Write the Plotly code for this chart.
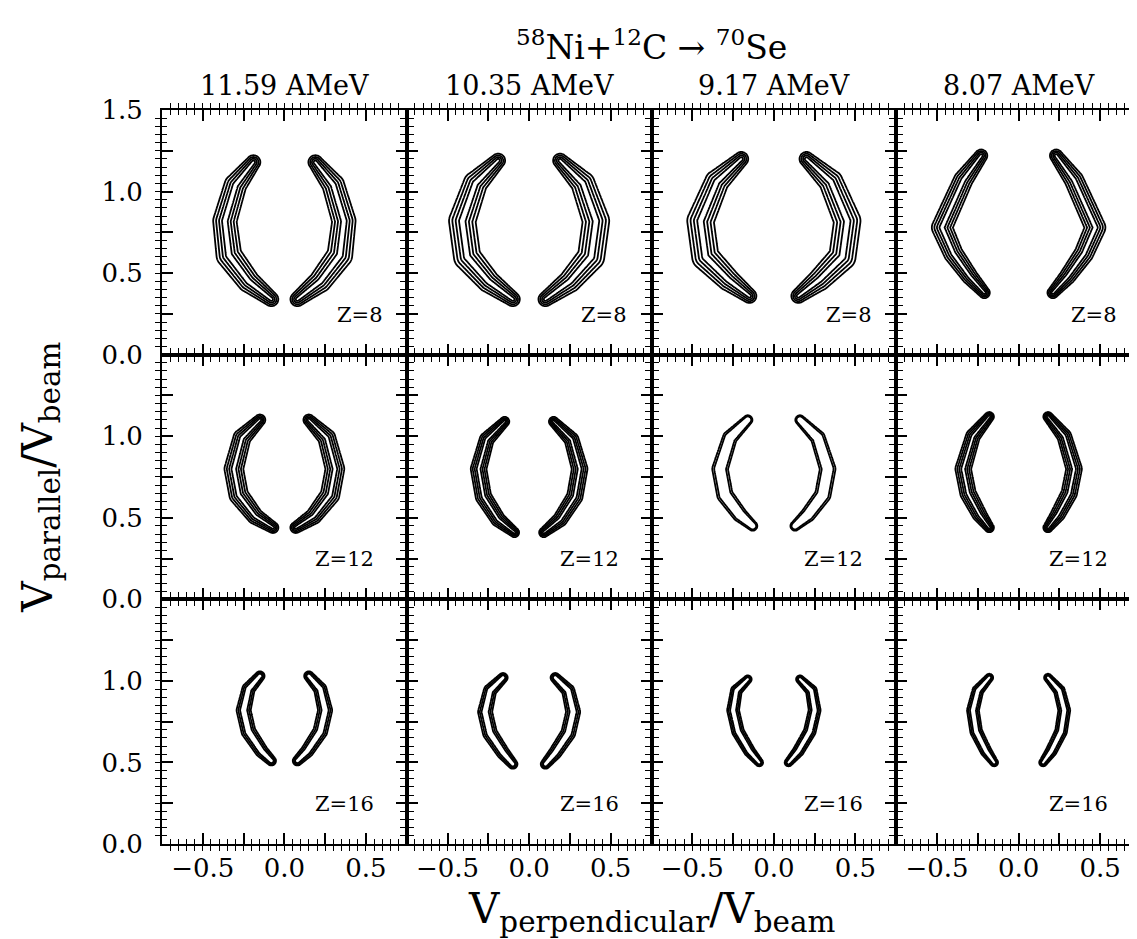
import numpy as np
import plotly.graph_objects as go
from plotly.subplots import make_subplots

# ---------------- data ----------------
energies = ["11.59 AMeV", "10.35 AMeV", "9.17 AMeV", "8.07 AMeV"]
charges = ["Z=8", "Z=12", "Z=16"]
y_ticks = [0.0, 0.5, 1.0, 1.5]
x_ticks = [-0.5, 0.0, 0.5]

# Crest line of the LEFT crescent (V_perp, V_par) in each panel, top -> bottom.
# The right crescent is its mirror image.  One list per charge row, one entry per energy.
z8_crest_x = [
    [-0.19, -0.30, -0.365, -0.34, -0.22, -0.08],
    [-0.19, -0.33, -0.41, -0.38, -0.25, -0.10],
    [-0.20, -0.35, -0.45, -0.42, -0.28, -0.15],
    [-0.23, -0.34, -0.47, -0.40, -0.30, -0.21],
]
z8_crest_y = [
    [1.18, 1.04, 0.82, 0.61, 0.45, 0.34],
    [1.19, 1.05, 0.82, 0.60, 0.45, 0.34],
    [1.20, 1.06, 0.82, 0.60, 0.46, 0.36],
    [1.22, 1.07, 0.78, 0.62, 0.48, 0.38],
]
z8_crest_w = [
    [0.045, 0.070, 0.075, 0.080, 0.070, 0.045],
    [0.045, 0.075, 0.085, 0.085, 0.070, 0.045],
    [0.045, 0.075, 0.085, 0.085, 0.070, 0.045],
    [0.040, 0.060, 0.065, 0.060, 0.050, 0.035],
]
z12_crest_x = [
    [-0.15, -0.26, -0.31, -0.28, -0.18, -0.07],
    [-0.15, -0.26, -0.31, -0.28, -0.19, -0.09],
    [-0.16, -0.27, -0.33, -0.30, -0.21, -0.13],
    [-0.18, -0.28, -0.34, -0.31, -0.24, -0.18],
]
z12_crest_y = [
    [1.10, 0.99, 0.80, 0.64, 0.51, 0.44],
    [1.09, 0.98, 0.80, 0.63, 0.49, 0.41],
    [1.10, 0.99, 0.80, 0.64, 0.52, 0.45],
    [1.12, 1.00, 0.80, 0.65, 0.52, 0.44],
]
z12_crest_w = [
    [0.035, 0.055, 0.060, 0.060, 0.050, 0.035],
    [0.030, 0.045, 0.050, 0.050, 0.045, 0.030],
    [0.030, 0.045, 0.050, 0.050, 0.045, 0.030],
    [0.030, 0.045, 0.050, 0.050, 0.045, 0.030],
]
z16_crest_x = [
    [-0.15, -0.22, -0.25, -0.22, -0.14, -0.08],
    [-0.16, -0.24, -0.27, -0.24, -0.16, -0.10],
    [-0.16, -0.23, -0.25, -0.22, -0.15, -0.09],
    [-0.18, -0.25, -0.28, -0.26, -0.20, -0.15],
]
z16_crest_y = [
    [1.03, 0.95, 0.82, 0.69, 0.57, 0.51],
    [1.02, 0.94, 0.81, 0.68, 0.56, 0.49],
    [1.01, 0.94, 0.82, 0.69, 0.57, 0.50],
    [1.02, 0.94, 0.82, 0.69, 0.57, 0.50],
]
z16_crest_w = [
    [0.030, 0.040, 0.045, 0.045, 0.040, 0.030],
    [0.030, 0.040, 0.045, 0.045, 0.040, 0.030],
    [0.025, 0.035, 0.038, 0.038, 0.035, 0.025],
    [0.025, 0.035, 0.038, 0.038, 0.035, 0.025],
]
# number of nested contour lines per panel
z8_levels = [4, 4, 4, 5]
z12_levels = [4, 4, 2, 4]
z16_levels = [3, 3, 3, 3]

crest_x = [z8_crest_x, z12_crest_x, z16_crest_x]
crest_y = [z8_crest_y, z12_crest_y, z16_crest_y]
crest_w = [z8_crest_w, z12_crest_w, z16_crest_w]
n_levels = [z8_levels, z12_levels, z16_levels]

# ---------------- figure ----------------
FONT = "DejaVu Serif"
fig = make_subplots(rows=3, cols=4, horizontal_spacing=0, vertical_spacing=0)

gx = np.round(np.arange(-0.70, 0.7001, 0.005), 4)
gy = np.round(np.arange(0.15, 1.4001, 0.005), 4)
GX, GY = np.meshgrid(gx, gy)


def crest_field(px, py, pw):
    best = np.full(GX.shape, -1.0)
    for sgn in (1, -1):
        xs = sgn * np.asarray(px, float)
        ys = np.asarray(py, float)
        ws = np.asarray(pw, float)
        for i in range(len(xs) - 1):
            ax, ay, bx, by = xs[i], ys[i], xs[i + 1], ys[i + 1]
            dx, dy = bx - ax, by - ay
            L2 = dx * dx + dy * dy
            t = np.clip(((GX - ax) * dx + (GY - ay) * dy) / L2, 0, 1)
            d = np.hypot(GX - (ax + t * dx), GY - (ay + t * dy))
            w = ws[i] + t * (ws[i + 1] - ws[i])
            best = np.maximum(best, 1 - d / w)
    return np.maximum(best, -1).astype(np.float32)


for r in range(3):
    for c in range(4):
        z = crest_field(crest_x[r][c], crest_y[r][c], crest_w[r][c])
        n = n_levels[r][c]
        fig.add_trace(
            go.Contour(
                x=gx, y=gy, z=z,
                contours=dict(coloring="none", start=0.05, end=0.05 + (n - 1) * 0.24 + 1e-6,
                              size=0.24),
                line=dict(color="black", width=1.8),
                showscale=False, hoverinfo="skip",
            ),
            row=r + 1, col=c + 1,
        )

yminor = np.round(np.arange(0, 1.5001, 0.05), 2)
xminor = np.round(np.arange(-0.75, 0.7501, 0.05), 2)
ymajor = np.round(np.arange(0, 1.5001, 0.25), 2)
xmajor = np.round(np.arange(-0.75, 0.7501, 0.25), 2)


def fmt(v):
    return f"{v:.1f}".replace("-", "\u2212")


def lab(v, allowed):
    return fmt(v) if any(abs(v - a) < 1e-9 for a in allowed) else ""


# primary axes: small ticks every 0.05 (mirrored) + labels
base = dict(
    showline=True, linecolor="black", linewidth=2, mirror="allticks",
    ticks="inside", ticklen=5, tickwidth=1.3, tickcolor="black",
    showgrid=False, zeroline=False, tickmode="array",
    tickfont=dict(family=FONT, size=26, color="black"),
)
# overlay axes: long ticks every 0.25 (mirrored), no labels
longt = dict(
    showline=True, linecolor="black", linewidth=2, mirror="allticks",
    ticks="inside", ticklen=11, tickwidth=1.7, tickcolor="black",
    showgrid=False, zeroline=False, tickmode="array", showticklabels=False,
)

for r in range(3):
    for c in range(4):
        idx = r * 4 + c + 1
        xa = "xaxis" if idx == 1 else f"xaxis{idx}"
        ya = "yaxis" if idx == 1 else f"yaxis{idx}"
        xt = [lab(v, x_ticks) if r == 2 else "" for v in xminor]
        ylabs = y_ticks if r == 0 else y_ticks[:-1]
        yt = [lab(v, ylabs) if c == 0 else "" for v in yminor]
        fig.layout[xa].update(range=[-0.75, 0.75], tickvals=list(xminor), ticktext=xt,
                              ticklabelstandoff=0, **base)
        fig.layout[ya].update(range=[0, 1.5], tickvals=list(yminor), ticktext=yt,
                              ticklabelstandoff=12, **base)
        k = idx + 12
        fig.layout[f"xaxis{k}"] = dict(range=[-0.75, 0.75], overlaying=f"x{idx}",
                                       anchor=f"y{idx}", side="bottom",
                                       tickvals=list(xmajor), **longt)
        fig.layout[f"yaxis{k}"] = dict(range=[0, 1.5], overlaying=f"y{idx}",
                                       anchor=f"x{idx}", side="left",
                                       tickvals=list(ymajor), **longt)
        # empty traces so the long-tick axes get drawn (secondary-axis pattern)
        fig.add_trace(go.Scatter(x=[None], y=[None], xaxis=f"x{k}", yaxis=f"y{idx}",
                                 mode="markers", showlegend=False, hoverinfo="skip"))
        fig.add_trace(go.Scatter(x=[None], y=[None], xaxis=f"x{idx}", yaxis=f"y{k}",
                                 mode="markers", showlegend=False, hoverinfo="skip"))
        # charge label
        fig.add_annotation(
            x=0.615 if r == 0 else 0.56, y=0.245, xref=f"x{idx}", yref=f"y{idx}",
            text=charges[r], showarrow=False, xanchor="right", yanchor="middle",
            font=dict(family=FONT, size=21, color="black"),
        )

for c in range(4):
    fig.add_annotation(
        x=(c + 0.5) / 4, y=1.033, xref="paper", yref="paper", text=energies[c],
        showarrow=False, xanchor="center", yanchor="middle",
        font=dict(family=FONT, size=27, color="black"),
    )

fig.add_annotation(
    x=0.5, y=1.088, xref="paper", yref="paper",
    text="<sup>58</sup>Ni+<sup>12</sup>C \u2192 <sup>70</sup>Se",
    showarrow=False, xanchor="center", yanchor="middle",
    font=dict(family=FONT, size=33, color="black"),
)
fig.add_annotation(
    x=0.5, y=-0.092, xref="paper", yref="paper",
    text="V<sub>perpendicular</sub>/V<sub>beam</sub>",
    showarrow=False, xanchor="center", yanchor="middle",
    font=dict(family=FONT, size=42, color="black"),
)
fig.add_annotation(
    x=-0.125, y=0.5, xref="paper", yref="paper",
    text="V<sub>parallel</sub>/V<sub>beam</sub>", textangle=-90,
    showarrow=False, xanchor="center", yanchor="middle",
    font=dict(family=FONT, size=42, color="black"),
)

fig.update_layout(
    width=1137, height=939,
    margin=dict(l=154, r=2, t=102, b=103),
    paper_bgcolor="white", plot_bgcolor="white",
    showlegend=False,
)

fig.write_html("out.html")
